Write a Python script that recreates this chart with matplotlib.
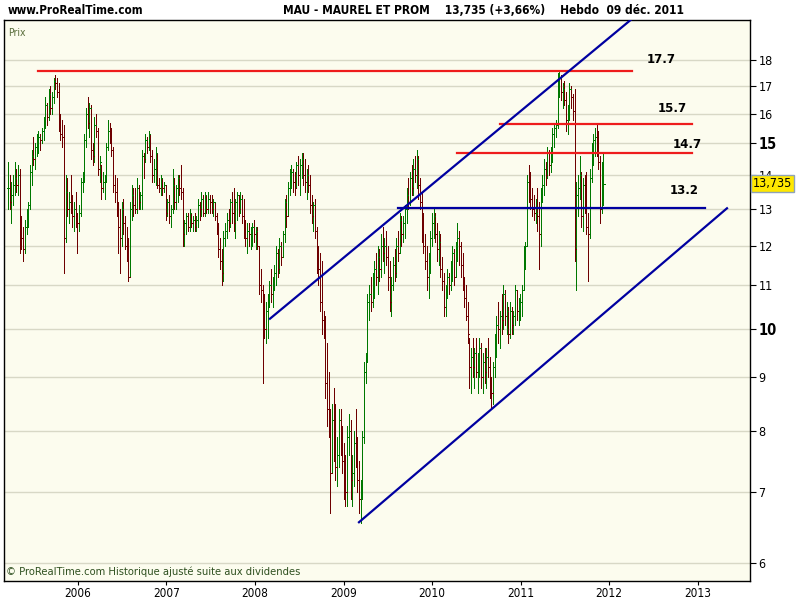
import numpy as np
import pandas as pd
import matplotlib
matplotlib.use('Agg')
import matplotlib.pyplot as plt
from matplotlib import ticker

plt.rcParams['font.family'] = ['DejaVu Sans']
plt.rcParams['font.stretch'] = 'condensed'

# weekly bars, Maurel & Prom, up to Friday 09 Dec 2011
highs = [14.4,14.0,13.8,14.0,14.4,14.2,14.3,14.2,12.8,12.5,
         12.7,13.0,13.2,14.3,14.8,15.2,15.0,15.3,15.4,15.3,
         15.5,15.9,16.6,16.4,16.9,17.0,16.8,17.3,17.4,17.3,
         17.1,16.0,15.8,15.6,14.0,13.9,13.5,14.0,13.4,13.2,
         13.5,12.9,13.1,13.9,14.1,15.3,16.2,16.6,16.4,16.3,
         15.0,15.9,16.0,15.5,14.6,14.3,14.1,14.0,15.0,15.8,
         15.7,15.5,14.9,14.0,13.9,13.2,13.0,13.2,13.3,12.8,
         12.5,12.2,13.2,13.7,13.6,13.6,13.9,13.7,13.5,14.8,
         14.7,15.3,15.2,15.4,15.3,14.8,14.5,14.9,14.7,13.9,
         14.0,13.9,13.8,13.7,13.3,13.4,13.1,14.2,13.9,13.7,
         14.0,14.0,14.3,13.6,12.7,12.9,12.9,13.0,12.9,12.8,
         12.9,12.8,13.3,13.2,13.5,13.4,13.5,13.4,13.5,13.4,
         13.4,13.3,13.2,12.9,12.6,12.2,11.9,12.4,12.6,12.9,
         13.0,13.3,13.5,13.6,13.3,13.5,13.4,13.5,13.4,13.3,
         12.7,12.6,12.6,12.5,12.6,12.7,12.5,12.5,12.0,11.4,
         11.0,10.8,10.6,10.8,11.1,11.4,11.2,11.5,12.0,11.9,
         12.2,12.1,12.4,13.3,13.4,13.8,14.2,14.3,14.2,14.1,
         14.4,14.6,14.5,14.7,14.7,14.5,14.2,14.3,14.0,13.4,
         13.2,13.3,12.5,12.0,11.8,11.6,10.4,10.3,9.7,9.1,
         8.4,8.5,8.8,8.5,7.9,8.4,8.4,8.1,7.8,7.6,
         8.1,8.3,8.2,7.6,8.0,8.4,7.9,7.5,7.2,8.0,
         9.3,9.5,10.8,11.0,11.2,11.3,11.6,11.8,12.0,11.9,
         12.3,12.5,12.2,12.4,12.0,11.6,11.2,11.7,11.9,12.2,
         12.4,12.9,12.8,12.8,13.1,13.6,13.9,14.1,14.3,14.5,
         14.6,14.8,14.6,13.9,13.5,12.9,12.3,12.0,11.8,12.4,
         12.9,13.0,12.9,12.6,12.4,12.3,11.7,11.3,11.0,11.4,
         11.3,11.6,12.0,11.9,12.1,12.6,12.4,12.1,11.8,11.2,
         11.0,10.6,9.8,9.6,9.8,9.6,9.8,9.5,9.8,9.7,
         9.5,9.6,9.6,9.8,9.4,9.0,9.3,9.9,10.3,10.6,
         10.4,10.8,11.0,10.9,10.6,10.5,10.6,10.5,10.4,11.0,
         10.9,10.7,10.8,11.0,12.0,12.1,14.0,14.3,14.1,13.6,
         13.4,13.3,13.6,13.2,13.6,14.0,14.5,14.4,14.9,14.8,
         14.9,15.5,15.7,15.8,17.5,17.6,17.4,17.1,17.2,16.8,
         16.3,17.1,17.0,16.7,16.9,13.8,14.0,14.6,14.1,13.9,
         14.0,14.1,12.9,14.2,15.0,15.3,15.5,15.65,15.4,14.6,14.4,14.7]

lows = [13.0,13.0,12.6,13.1,13.4,13.5,13.4,11.8,11.9,11.6,
        11.8,12.3,12.5,13.0,13.7,14.3,14.2,14.6,14.7,14.8,
        15.0,15.1,15.5,15.6,15.8,16.0,16.0,16.4,16.9,16.6,
        15.4,15.1,14.9,11.3,12.1,12.8,12.6,12.9,12.5,12.4,
        12.5,11.8,12.4,12.8,13.5,13.8,14.9,15.5,15.2,14.5,
        14.3,14.4,15.2,14.0,13.8,13.3,13.5,13.3,13.8,14.8,
        15.0,14.6,13.5,13.2,12.8,11.8,11.3,12.0,12.3,11.9,
        11.6,11.1,11.2,12.7,12.8,12.9,12.9,13.0,13.0,13.0,
        13.9,14.4,14.7,14.8,14.4,13.8,13.8,13.7,13.6,13.5,
        13.4,13.4,13.5,12.7,12.8,12.6,12.5,12.9,13.0,13.0,
        13.2,13.4,13.3,12.0,12.0,12.3,12.4,12.4,12.5,12.4,
        12.4,12.4,12.5,12.7,12.8,12.8,12.8,12.9,12.9,12.9,
        12.9,12.8,12.7,12.3,11.7,11.4,11.0,11.1,12.0,12.2,
        12.4,12.5,12.6,12.4,12.2,12.7,12.8,12.9,12.6,12.2,
        12.0,11.8,12.0,11.9,12.0,12.1,11.9,11.9,10.8,10.6,
        8.9,9.8,9.7,9.8,10.5,10.6,10.5,10.9,11.0,11.2,
        11.3,11.5,11.7,12.1,12.5,12.8,13.4,13.6,13.5,13.4,
        13.6,13.7,13.4,13.9,13.7,13.5,13.3,13.5,12.9,12.6,
        12.4,12.2,11.3,11.0,10.4,9.9,9.8,8.6,8.1,7.9,
        6.7,7.3,7.5,7.2,7.1,7.4,7.6,7.3,6.9,6.8,
        6.8,7.6,6.9,6.8,7.1,7.4,7.0,6.7,6.55,6.9,
        7.8,8.9,9.3,10.2,10.4,10.5,10.7,11.0,10.8,11.1,
        11.2,11.6,11.3,11.5,10.9,10.4,10.3,10.9,11.1,11.2,
        11.6,11.8,12.0,12.1,12.2,12.6,13.0,13.1,13.4,13.4,
        13.8,13.6,13.3,13.0,12.1,11.8,11.4,10.9,10.7,11.3,
        12.0,12.2,12.1,11.6,11.5,11.2,10.9,10.3,10.3,10.7,
        10.8,10.9,11.1,11.0,11.2,11.6,11.5,11.2,10.9,10.5,
        10.2,9.7,8.8,8.7,9.0,8.8,9.0,8.7,9.0,8.8,
        8.7,8.9,8.8,9.0,8.6,8.4,8.5,9.0,9.4,9.7,
        9.6,9.9,10.0,10.1,9.9,9.7,9.8,9.9,9.9,10.1,
        10.2,10.1,10.2,10.3,10.9,11.4,12.0,13.2,13.0,12.8,
        12.7,12.6,12.4,11.4,12.0,13.2,13.4,13.7,13.9,14.0,
        14.1,14.4,14.9,15.2,15.5,16.6,16.5,16.2,16.3,15.4,
        15.3,15.8,16.2,15.8,11.6,10.9,12.8,13.3,12.5,12.4,
        12.9,12.3,11.1,12.2,13.8,14.3,14.6,14.6,14.2,12.6,12.9,13.1]

closes = [13.6,13.2,13.4,13.7,13.9,13.7,14.0,12.4,12.2,11.9,
          12.5,12.9,13.1,14.1,14.6,14.5,14.9,15.0,15.2,15.1,
          15.4,15.7,16.3,15.9,16.7,16.2,16.6,17.2,17.1,16.8,
          15.6,15.3,15.2,12.2,13.5,13.0,13.2,13.0,12.8,13.0,
          12.7,12.6,12.9,13.8,14.0,15.1,16.0,15.7,16.2,14.8,
          14.6,15.6,15.4,14.2,14.4,13.6,13.8,13.9,14.9,15.4,
          15.3,14.8,13.7,13.5,13.0,12.5,12.2,13.0,12.6,12.0,
          11.9,11.2,13.0,13.4,13.1,13.0,13.6,13.2,13.4,14.6,
          14.5,15.1,14.9,15.3,14.6,14.0,14.2,14.7,13.7,13.6,
          13.9,13.6,13.7,12.9,13.2,12.8,13.0,13.7,13.2,13.6,
          13.9,13.6,13.5,12.3,12.6,12.8,12.5,12.9,12.6,12.7,
          12.5,12.7,13.1,13.0,13.3,12.9,13.4,13.0,13.3,13.2,
          13.0,13.2,12.8,12.5,11.9,11.6,11.3,12.2,12.4,12.7,
          12.6,13.2,12.9,12.6,13.2,13.4,13.0,13.3,12.8,12.4,
          12.2,12.4,12.3,12.4,12.5,12.3,12.4,12.0,11.0,10.9,
          10.4,10.0,10.4,10.6,11.0,10.8,11.1,11.3,11.8,11.4,
          12.0,11.7,12.3,13.2,12.8,13.6,14.0,14.1,13.8,13.6,
          14.3,14.0,14.3,14.5,14.0,13.8,14.0,13.7,13.1,12.8,
          13.1,12.4,11.5,11.4,10.6,10.2,10.0,8.9,8.4,8.1,
          7.3,8.2,7.8,7.4,7.6,8.2,7.8,7.5,7.1,7.0,
          7.9,8.0,7.2,7.3,7.8,7.6,7.2,6.9,7.0,7.9,
          9.1,9.3,10.6,10.8,10.6,11.1,11.4,11.2,11.7,11.4,
          12.0,11.8,12.0,11.7,11.2,10.6,11.0,11.5,11.3,12.0,
          11.8,12.7,12.3,12.6,13.0,13.4,13.2,13.9,13.6,14.2,
          14.0,14.5,13.7,13.2,12.4,12.0,11.6,11.2,11.5,12.2,
          12.6,12.8,12.3,11.9,12.1,11.4,11.1,10.5,10.8,11.2,
          11.0,11.4,11.8,11.2,11.9,12.2,12.0,11.5,11.1,10.7,
          10.3,9.9,9.2,9.4,9.2,9.5,9.1,9.3,9.6,9.0,
          9.3,9.1,9.4,9.2,8.8,8.7,9.2,9.7,10.1,10.0,
          10.3,10.2,10.8,10.3,10.4,9.9,10.4,10.1,10.3,10.9,
          10.4,10.5,10.6,10.9,11.8,12.0,13.8,13.5,13.3,13.0,
          12.9,12.9,12.8,12.3,13.4,13.7,14.2,14.0,14.7,14.3,
          14.8,15.3,15.5,15.6,17.0,17.3,16.8,16.9,16.5,15.8,
          16.0,16.9,16.6,16.1,11.9,13.4,13.6,14.0,12.8,13.7,
          13.2,12.5,12.3,13.9,14.8,15.1,15.2,14.9,14.4,13.0,13.25,13.735]

# support / resistance levels: (label, level, start, end)
red_levels = [("17.7", 17.57, 2005.548, 2012.26),
              ("15.7", 15.65, 2010.768, 2012.938),
              ("14.7", 14.70, 2010.282, 2012.938)]
blue_levels = [("13.2", 13.03, 2009.616, 2013.085)]
level_labels = {"17.7": (2012.588, 18.0), "15.7": (2012.712, 16.2),
                "14.7": (2012.881, 14.95), "13.2": (2012.847, 13.53)}
# channel lines (year, price)
upper_channel = [(2008.169, 10.23), (2012.282, 19.76)]
lower_channel = [(2009.175, 6.56), (2013.333, 13.02)]

yticks = [6, 7, 8, 9, 10, 11, 12, 13, 14, 15, 16, 17, 18]
years = [2006, 2007, 2008, 2009, 2010, 2011, 2012, 2013]

dates = pd.date_range(end="2011-12-09", periods=len(closes), freq="W-FRI")
x = np.array(dates.year + (dates.dayofyear - 1) / 365.25)
h = np.array(highs)
l = np.array(lows)
c = np.array(closes)
o = np.clip(np.r_[c[0], c[:-1]], l, h)

fig = plt.figure(figsize=(8, 6), dpi=100)
ax = fig.add_axes([4/800, 19/600, 746/800, 561/600])
ax.set_facecolor('#FCFCEE')
ax.set_yscale('log')

green, red = '#007800', '#6e0000'
cols = np.where(c >= o, green, red)
w = 0.015
ax.vlines(x, l, h, colors=cols, lw=0.72, zorder=3, antialiased=False)
ax.hlines(o, x - w, x, colors=cols, lw=0.72, zorder=3, antialiased=False)
ax.hlines(c, x, x + w, colors=cols, lw=0.72, zorder=3, antialiased=False)

for lab, lev, x0, x1 in red_levels:
    ax.plot([x0, x1], [lev, lev], color='#ee1c1c', lw=1.6, zorder=4)
for lab, lev, x0, x1 in blue_levels:
    ax.plot([x0, x1], [lev, lev], color='#0000a0', lw=1.6, zorder=4)
for lab, (tx, ty) in level_labels.items():
    ax.text(tx, ty, lab, ha='center', va='center', fontsize=8.5,
            fontweight='bold', fontstretch='normal')
for seg in (upper_channel, lower_channel):
    ax.plot([p[0] for p in seg], [p[1] for p in seg], color='#0000a0', lw=1.6, zorder=4)

ax.set_xlim(2005.164, 2013.593)
ax.set_ylim(5.77, 19.64)

ax.yaxis.tick_right()
ax.yaxis.set_major_locator(ticker.FixedLocator(yticks))
ax.yaxis.set_minor_locator(ticker.NullLocator())
ax.yaxis.set_major_formatter(ticker.FixedFormatter([str(v) for v in yticks]))
ax.tick_params(axis='y', direction='out', length=4, width=0.8, pad=2, labelsize=9)
for t in ax.get_yticklabels():
    if t.get_text() in ('10', '15'):
        t.set_fontweight('bold')
        t.set_fontsize(10.5)
ax.set_xticks(years)
ax.set_xticklabels([str(y) for y in years])
ax.xaxis.set_minor_locator(ticker.NullLocator())
ax.tick_params(axis='x', direction='out', length=3, width=0.8, pad=1.5, labelsize=8.5)
ax.grid(axis='y', color='#d8d8c6', lw=1, zorder=0)
ax.set_axisbelow(True)
for s in ax.spines.values():
    s.set_color('black')
    s.set_linewidth(1)

ax.text(1.0035, 13.735, "13,735", transform=ax.get_yaxis_transform(), ha='left', va='center',
        fontsize=9, zorder=10, clip_on=False,
        bbox=dict(boxstyle='square,pad=0.15', fc='#ffe800', ec='#8fa3b8', lw=1))

fig.text(8/800, 1 - 10/600, "www.ProRealTime.com", ha='left', va='center', fontsize=8.4, fontweight='bold')
fig.text(283/800, 1 - 10/600, "MAU - MAUREL ET PROM    13,735 (+3,66%)    Hebdo  09 déc. 2011",
         ha='left', va='center', fontsize=8.6, fontweight='bold')
ax.text(0.005, 0.985, "Prix", transform=ax.transAxes, ha='left', va='top', fontsize=7.5, color='#5a6e3c')
ax.text(0.003, 0.008, "© ProRealTime.com Historique ajusté suite aux dividendes", transform=ax.transAxes,
        ha='left', va='bottom', fontsize=8, color='#2f5020')

fig.savefig('out.png', dpi=100, facecolor='white')
